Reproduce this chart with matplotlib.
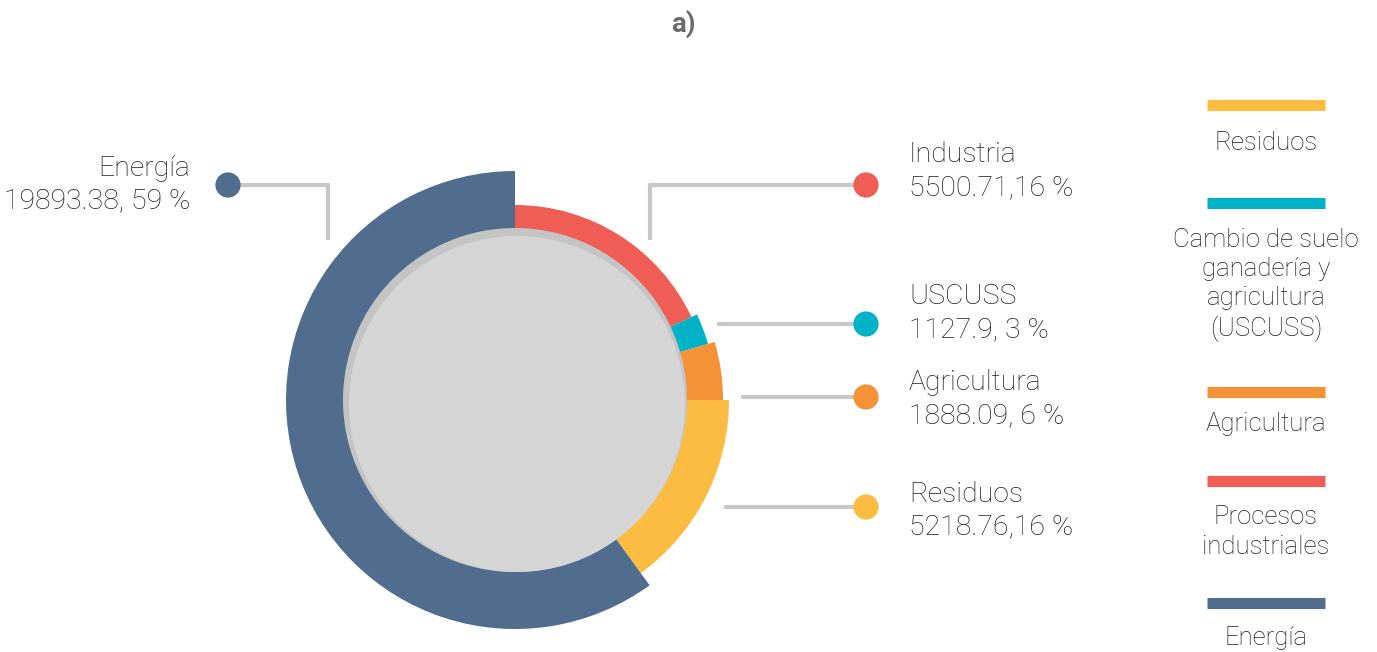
import matplotlib.pyplot as plt
from matplotlib.patches import Wedge, Circle

# sectors, clockwise from the top
sectors = ["Industria", "USCUSS", "Agricultura", "Residuos", "Energía"]
label_values = ["5500.71,16 %", "1127.9, 3 %", "1888.09, 6 %", "5218.76,16 %", "19893.38, 59 %"]
arc_share = [18.0, 2.5, 4.5, 15.0, 60.0]          # share of the circle, read from the arcs
outer_radius = [195, 201, 208, 214, 229]          # px, each ring sticks out differently
colors = ["#f05d55", "#00b2c8", "#f59137", "#fcbc42", "#506d8d"]

legend_labels = ["Residuos", "Cambio de suelo\nganadería y\nagricultura\n(USCUSS)",
                 "Agricultura", "Procesos\nindustriales", "Energía"]
legend_colors = ["#fcbc42", "#00b2c8", "#f59137", "#f05d55", "#506d8d"]

W, H = 1377, 652
plt.rcParams['font.family'] = ['Roboto', 'DejaVu Sans']

fig = plt.figure(figsize=(W / 100, H / 100), dpi=100)
ax = fig.add_axes([0, 0, 1, 1])
ax.set_xlim(0, W)
ax.set_ylim(0, H)
ax.set_aspect('equal')
ax.axis('off')


def Y(y):
    # image row -> data y
    return H - y


cx, cy = 515, Y(400)
inner_r = 172

# donut wedges, clockwise from 12 o'clock
total = sum(arc_share)
start = 90.0
for share, r, col in zip(arc_share, outer_radius, colors):
    sweep = share / total * 360
    ax.add_patch(Wedge((cx, cy), r, start - sweep, start, width=r - inner_r + 6,
                       facecolor=col, edgecolor='none'))
    start -= sweep

# grey centre with a soft shadow on the upper side
ax.add_patch(Circle((cx, cy), inner_r, facecolor='#c4c4c4', edgecolor='none', zorder=3))
ax.add_patch(Circle((cx + 2, cy - 4), inner_r - 4, facecolor='#d5d5d5', edgecolor='none', zorder=4))

line_kw = dict(color='#c8c8c8', lw=3, solid_capstyle='butt', zorder=2)
txt_kw = dict(fontsize=20.5, color='#1e1e1e', fontweight='light')

# Energía callout (left)
ax.plot([228, 328, 328], [Y(185), Y(185), Y(240)], **line_kw)
ax.scatter([228], [Y(185)], s=330, color=colors[4], zorder=5, edgecolors='none')
ax.text(190, Y(169), sectors[4], ha='right', va='center', **txt_kw)
ax.text(190, Y(201), label_values[4], ha='right', va='center', **txt_kw)

# right-hand callouts
right_names = ["Industria", "USCUSS", "Agricultura", "Residuos"]
line_start = [650, 717, 741, 724]
line_y = [185, 324, 397, 507]
text_y = [155, 297, 383, 494]
for i in range(4):
    if i == 0:
        ax.plot([650, 650, 866], [Y(240), Y(185), Y(185)], **line_kw)
    else:
        ax.plot([line_start[i], 866], [Y(line_y[i]), Y(line_y[i])], **line_kw)
    ax.scatter([866], [Y(line_y[i])], s=330, color=colors[i], zorder=5, edgecolors='none')
    ax.text(909, Y(text_y[i]), right_names[i], ha='left', va='center', **txt_kw)
    ax.text(909, Y(text_y[i] + 33), label_values[i], ha='left', va='center', **txt_kw)

# legend column
bar_y = [105, 203, 392, 481, 603]
lab_y = [143, 285, 424, 532, 638]
for lbl, col, by, ly in zip(legend_labels, legend_colors, bar_y, lab_y):
    ax.plot([1207, 1325], [Y(by), Y(by)], color=col, lw=8, solid_capstyle='butt')
    ax.text(1266, Y(ly), lbl, ha='center', va='center', fontsize=18.5,
            color='#1e1e1e', fontweight='light', linespacing=1.27)

ax.text(683, Y(24), "a)", ha='center', va='center', fontsize=20,
        fontweight='bold', color='#6b6b6b')

fig.savefig("out.png", dpi=100)
